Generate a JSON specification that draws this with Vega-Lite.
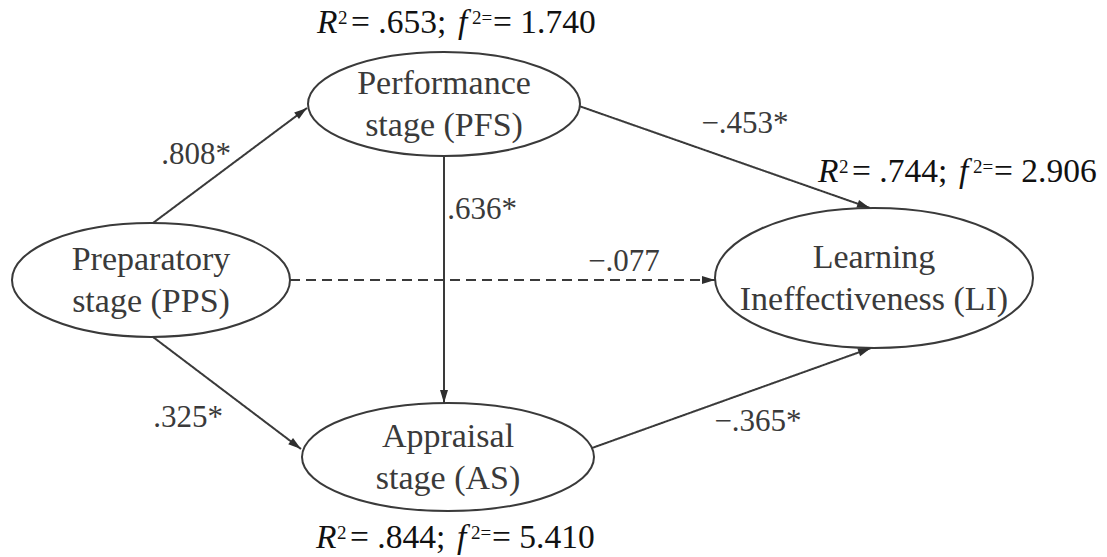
{
  "$schema": "https://vega.github.io/schema/vega-lite/v6.json",
  "width": 1107,
  "height": 557,
  "autosize": {"type": "fit", "contains": "padding"},
  "padding": 0,
  "background": "white",
  "config": {"view": {"stroke": null}},
  "datasets": {
    "nodes": [
      {"id": "PFS", "x": 444, "y": 104, "label": "Performance\nstage (PFS)"},
      {"id": "PPS", "x": 151, "y": 280, "label": "Preparatory\nstage (PPS)"},
      {"id": "LI", "x": 874, "y": 278, "label": "Learning\nIneffectiveness (LI)"},
      {"id": "AS", "x": 448, "y": 457, "label": "Appraisal\nstage (AS)"}
    ],
    "edges": [
      {"from": "PPS", "to": "PFS", "x1": 153, "y1": 223, "x2": 307, "y2": 108, "angle": 53.3, "sig": "yes", "coef": ".808*", "lx": 196, "ly": 155},
      {"from": "PPS", "to": "AS", "x1": 153, "y1": 337, "x2": 301, "y2": 449, "angle": 127.1, "sig": "yes", "coef": ".325*", "lx": 188, "ly": 418},
      {"from": "PFS", "to": "AS", "x1": 444, "y1": 156, "x2": 444, "y2": 403, "angle": 180, "sig": "yes", "coef": ".636*", "lx": 482, "ly": 210},
      {"from": "PPS", "to": "LI", "x1": 290, "y1": 280, "x2": 715, "y2": 280, "angle": 90, "sig": "no", "coef": "\u2212.077", "lx": 624, "ly": 262},
      {"from": "PFS", "to": "LI", "x1": 579, "y1": 106, "x2": 870, "y2": 208, "angle": 109.3, "sig": "yes", "coef": "\u2212.453*", "lx": 745, "ly": 124},
      {"from": "AS", "to": "LI", "x1": 592, "y1": 448, "x2": 871, "y2": 348, "angle": 70.3, "sig": "yes", "coef": "\u2212.365*", "lx": 758, "ly": 422}
    ],
    "fits": [
      {"node": "PFS", "x": 317, "y": 33, "r2": "= .653;", "f2": "= 1.740"},
      {"node": "LI", "x": 818, "y": 182, "r2": "= .744;", "f2": "= 2.906"},
      {"node": "AS", "x": 316, "y": 548, "r2": "= .844;", "f2": "= 5.410"}
    ]
  },
  "encoding": {
    "x": {"field": "x", "type": "quantitative", "scale": {"domain": [0, 1107], "nice": false, "zero": false}, "axis": null},
    "y": {"field": "y", "type": "quantitative", "scale": {"domain": [0, 557], "nice": false, "zero": false, "reverse": true}, "axis": null}
  },
  "layer": [
    {
      "data": {"name": "edges"},
      "mark": {"type": "rule", "stroke": "#3a3a3a", "strokeWidth": 2, "strokeCap": "butt"},
      "encoding": {
        "x": {"field": "x1", "type": "quantitative"},
        "y": {"field": "y1", "type": "quantitative"},
        "x2": {"field": "x2"},
        "y2": {"field": "y2"},
        "strokeDash": {"field": "sig", "type": "nominal", "scale": {"domain": ["yes", "no"], "range": [[1, 0], [10, 6]]}, "legend": null}
      }
    },
    {
      "data": {"name": "nodes"},
      "transform": [{"filter": {"field": "id", "equal": "PFS"}}],
      "mark": {"type": "point", "shape": "M1,0C1,0.2112,0.5523,0.3824,0,0.3824C-0.5523,0.3824,-1,0.2112,-1,0C-1,-0.2112,-0.5523,-0.3824,0,-0.3824C0.5523,-0.3824,1,-0.2112,1,0Z", "size": 73984, "filled": true, "fill": "white", "stroke": "#3a3a3a", "strokeWidth": 2, "opacity": 1}
    },
    {
      "data": {"name": "nodes"},
      "transform": [{"filter": {"field": "id", "equal": "PPS"}}],
      "mark": {"type": "point", "shape": "M1,0C1,0.2264,0.5523,0.41,0,0.41C-0.5523,0.41,-1,0.2264,-1,0C-1,-0.2264,-0.5523,-0.41,0,-0.41C0.5523,-0.41,1,-0.2264,1,0Z", "size": 77284, "filled": true, "fill": "white", "stroke": "#3a3a3a", "strokeWidth": 2, "opacity": 1}
    },
    {
      "data": {"name": "nodes"},
      "transform": [{"filter": {"field": "id", "equal": "LI"}}],
      "mark": {"type": "point", "shape": "M1,0C1,0.2432,0.5523,0.4403,0,0.4403C-0.5523,0.4403,-1,0.2432,-1,0C-1,-0.2432,-0.5523,-0.4403,0,-0.4403C0.5523,-0.4403,1,-0.2432,1,0Z", "size": 101124, "filled": true, "fill": "white", "stroke": "#3a3a3a", "strokeWidth": 2, "opacity": 1}
    },
    {
      "data": {"name": "nodes"},
      "transform": [{"filter": {"field": "id", "equal": "AS"}}],
      "mark": {"type": "point", "shape": "M1,0C1,0.2043,0.5523,0.3699,0,0.3699C-0.5523,0.3699,-1,0.2043,-1,0C-1,-0.2043,-0.5523,-0.3699,0,-0.3699C0.5523,-0.3699,1,-0.2043,1,0Z", "size": 85264, "filled": true, "fill": "white", "stroke": "#3a3a3a", "strokeWidth": 2, "opacity": 1}
    },
    {
      "data": {"name": "edges"},
      "mark": {"type": "point", "shape": "M0,0L-0.8,2.6L0.8,2.6Z", "size": 100, "filled": true, "fill": "#2e2e2e", "stroke": null, "opacity": 1},
      "encoding": {
        "x": {"field": "x2", "type": "quantitative"},
        "y": {"field": "y2", "type": "quantitative"},
        "angle": {"field": "angle", "type": "quantitative", "scale": null}
      }
    },
    {
      "data": {"name": "edges"},
      "mark": {"type": "text", "font": "Liberation Serif", "fontSize": 31, "fill": "#3a3a3a", "align": "center", "baseline": "middle"},
      "encoding": {
        "x": {"field": "lx", "type": "quantitative"},
        "y": {"field": "ly", "type": "quantitative"},
        "text": {"field": "coef"}
      }
    },
    {
      "data": {"name": "nodes"},
      "mark": {"type": "text", "font": "Liberation Serif", "fontSize": 34, "fill": "#3a3a3a", "align": "center", "baseline": "middle", "lineBreak": "\n", "lineHeight": 42, "dy": -20},
      "encoding": {"text": {"field": "label"}}
    },
    {
      "data": {"name": "fits"},
      "mark": {"type": "text", "font": "Liberation Serif", "fontSize": 33.5, "fontStyle": "italic", "fill": "#111111", "align": "left", "baseline": "alphabetic"},
      "encoding": {"text": {"value": "R"}}
    },
    {
      "data": {"name": "fits"},
      "mark": {"type": "text", "font": "Liberation Serif", "fontSize": 19, "fill": "#111111", "align": "left", "baseline": "alphabetic", "dx": 21, "dy": -9},
      "encoding": {"text": {"value": "2"}}
    },
    {
      "data": {"name": "fits"},
      "mark": {"type": "text", "font": "Liberation Serif", "fontSize": 33.5, "fill": "#111111", "align": "left", "baseline": "alphabetic", "dx": 34},
      "encoding": {"text": {"field": "r2"}}
    },
    {
      "data": {"name": "fits"},
      "mark": {"type": "text", "font": "Liberation Serif", "fontSize": 33.5, "fontStyle": "italic", "fill": "#111111", "align": "left", "baseline": "alphabetic", "dx": 141},
      "encoding": {"text": {"value": "f"}}
    },
    {
      "data": {"name": "fits"},
      "mark": {"type": "text", "font": "Liberation Serif", "fontSize": 19, "fill": "#111111", "align": "left", "baseline": "alphabetic", "dx": 155, "dy": -9},
      "encoding": {"text": {"value": "2="}}
    },
    {
      "data": {"name": "fits"},
      "mark": {"type": "text", "font": "Liberation Serif", "fontSize": 33.5, "fill": "#111111", "align": "left", "baseline": "alphabetic", "dx": 176},
      "encoding": {"text": {"field": "f2"}}
    }
  ]
}
